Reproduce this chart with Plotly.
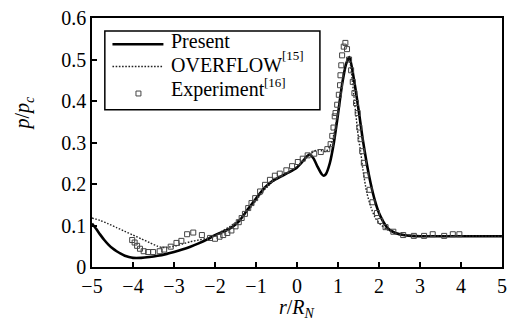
import plotly.graph_objects as go

# ---- data ----
present_x = [-5.0,-4.9,-4.8,-4.7,-4.6,-4.5,-4.4,-4.3,-4.2,-4.1,-4.0,-3.8,-3.6,-3.4,-3.2,-3.0,-2.8,-2.6,-2.4,-2.2,-2.0,-1.8,-1.6,-1.4,-1.2,-1.0,-0.8,-0.6,-0.4,-0.2,0.0,0.1,0.2,0.3,0.4,0.5,0.6,0.65,0.7,0.8,0.9,1.0,1.1,1.2,1.28,1.4,1.5,1.6,1.7,1.8,1.9,2.0,2.1,2.2,2.3,2.4,2.6,2.8,3.0,3.5,4.0,4.5,5.0]
present_y = [0.105,0.092,0.078,0.065,0.054,0.045,0.038,0.032,0.027,0.024,0.022,0.022,0.024,0.027,0.031,0.036,0.042,0.049,0.057,0.066,0.077,0.085,0.095,0.112,0.139,0.165,0.190,0.207,0.218,0.228,0.240,0.250,0.262,0.271,0.262,0.242,0.224,0.220,0.223,0.250,0.300,0.368,0.440,0.490,0.506,0.445,0.380,0.310,0.250,0.200,0.160,0.130,0.110,0.095,0.087,0.082,0.077,0.075,0.074,0.074,0.074,0.074,0.074]

overflow_x = [-5.0,-4.8,-4.6,-4.4,-4.2,-4.0,-3.8,-3.6,-3.4,-3.3,-3.2,-3.0,-2.8,-2.6,-2.4,-2.2,-2.0,-1.8,-1.6,-1.4,-1.2,-1.0,-0.8,-0.6,-0.4,-0.2,0.0,0.2,0.3,0.4,0.5,0.6,0.7,0.8,0.9,1.0,1.1,1.2,1.26,1.3,1.4,1.5,1.55,1.6,1.7,1.8,1.9,2.0,2.2,2.4,2.6,3.0,4.0,5.0]
overflow_y = [0.118,0.112,0.104,0.095,0.086,0.077,0.068,0.059,0.050,0.047,0.047,0.050,0.055,0.061,0.065,0.069,0.076,0.088,0.100,0.115,0.135,0.160,0.185,0.205,0.218,0.228,0.242,0.262,0.270,0.278,0.282,0.280,0.278,0.290,0.320,0.375,0.440,0.490,0.503,0.490,0.400,0.310,0.280,0.240,0.180,0.145,0.120,0.106,0.090,0.081,0.077,0.075,0.075,0.074]

exp_x = [-4.02,-3.96,-3.90,-3.83,-3.74,-3.63,-3.51,-3.35,-3.24,-3.08,-2.94,-2.82,-2.68,-2.53,-2.32,-2.12,-2.00,-1.89,-1.80,-1.70,-1.60,-1.50,-1.42,-1.35,-1.27,-1.19,-1.11,-1.02,-0.90,-0.78,-0.66,-0.54,-0.42,-0.26,-0.12,0.02,0.14,0.26,0.42,0.58,0.74,0.82,0.86,0.89,0.92,0.94,0.98,1.02,1.05,1.06,1.08,1.10,1.14,1.18,1.22,1.27,1.32,1.36,1.40,1.44,1.48,1.52,1.55,1.59,1.63,1.69,1.77,1.84,1.95,2.03,2.16,2.35,2.59,2.85,3.10,3.31,3.59,3.80,3.96]
exp_y = [0.065,0.059,0.051,0.044,0.038,0.036,0.036,0.038,0.042,0.049,0.058,0.063,0.079,0.083,0.077,0.070,0.068,0.073,0.077,0.082,0.088,0.098,0.108,0.118,0.128,0.142,0.154,0.166,0.182,0.198,0.210,0.220,0.225,0.233,0.243,0.253,0.261,0.269,0.273,0.277,0.284,0.296,0.316,0.336,0.363,0.371,0.391,0.415,0.438,0.462,0.486,0.510,0.531,0.540,0.525,0.500,0.474,0.446,0.419,0.395,0.371,0.336,0.308,0.279,0.251,0.221,0.186,0.156,0.130,0.111,0.096,0.085,0.077,0.075,0.075,0.079,0.075,0.079,0.079]

x_ticks = [-5, -4, -3, -2, -1, 0, 1, 2, 3, 4, 5]
y_ticks = [0, 0.1, 0.2, 0.3, 0.4, 0.5, 0.6]

series_names = ["Present", "OVERFLOW", "Experiment"]
series_refs = ["", "[15]", "[16]"]

FONT = "Liberation Serif"
DOT = "1.6px,1.6px"

fig = go.Figure()
fig.add_trace(go.Scatter(x=present_x, y=present_y, mode="lines", name=series_names[0],
                         line=dict(color="black", width=2.6, shape="spline", smoothing=0.6)))
fig.add_trace(go.Scatter(x=overflow_x, y=overflow_y, mode="lines", name=series_names[1],
                         line=dict(color="#222", width=1.4, dash=DOT, shape="spline", smoothing=0.6)))
fig.add_trace(go.Scatter(x=exp_x, y=exp_y, mode="markers", name=series_names[2],
                         marker=dict(symbol="square-open", size=5, color="#444", line=dict(width=1))))

axis_common = dict(showline=True, linecolor="black", linewidth=1.5, mirror=True,
                   ticks="inside", ticklen=5, tickwidth=1.5, tickcolor="black",
                   showgrid=False, zeroline=False,
                   tickfont=dict(family=FONT, size=20, color="black"))

# ---- manual legend (paper coordinates) ----
lx0, lx1, ly0, ly1 = 0.0313, 0.5559, 0.6312, 0.9474
row_y = [0.8945, 0.8051, 0.6968]
txt_y = [0.9079, 0.8110, 0.7140]
sup_x = [None, 0.461, 0.417]
sup_y = [None, 0.848, 0.742]
sx0, sx1 = 0.0499, 0.1742
sq_x = 0.1133
tx = 0.19

shapes = [
    dict(type="rect", xref="paper", yref="paper", x0=lx0, x1=lx1, y0=ly0, y1=ly1,
         line=dict(color="black", width=1.5), fillcolor="white", layer="above"),
    dict(type="line", xref="paper", yref="paper", x0=sx0, x1=sx1, y0=row_y[0], y1=row_y[0],
         line=dict(color="black", width=2.6), layer="above"),
    dict(type="line", xref="paper", yref="paper", x0=sx0, x1=sx1, y0=row_y[1], y1=row_y[1],
         line=dict(color="#222", width=1.4, dash=DOT), layer="above"),
    dict(type="rect", xref="paper", yref="paper",
         x0=sq_x - 2.5 / 415, x1=sq_x + 2.5 / 415,
         y0=row_y[2] - 2.5 / 253, y1=row_y[2] + 2.5 / 253,
         line=dict(color="#444", width=1), fillcolor="white", layer="above"),
]

annotations = [
    dict(text="<i>r</i>/<i>R</i><sub><i>N</i></sub>", x=0.5, y=-0.107,
         xref="paper", yref="paper", showarrow=False, xanchor="center", yanchor="top",
         font=dict(family=FONT, size=20)),
    dict(text="<i>p</i>/<i>p</i><sub><i>c</i></sub>", x=-0.166, y=0.62,
         xref="paper", yref="paper", showarrow=False, textangle=-90,
         xanchor="center", yanchor="middle", font=dict(family=FONT, size=20)),
]
for i, name in enumerate(series_names):
    annotations.append(dict(text=name, x=tx, y=txt_y[i], xref="paper", yref="paper",
                            showarrow=False, xanchor="left", yanchor="middle", borderpad=0,
                            font=dict(family=FONT, size=20, color="black")))
    if series_refs[i]:
        annotations.append(dict(text=series_refs[i], x=sup_x[i], y=sup_y[i],
                                xref="paper", yref="paper", showarrow=False,
                                xanchor="left", yanchor="middle", borderpad=0,
                                font=dict(family=FONT, size=13, color="black")))

fig.update_layout(
    width=514, height=325,
    margin=dict(l=92, r=7, t=14, b=58),
    paper_bgcolor="white", plot_bgcolor="white",
    font=dict(family=FONT, size=20, color="black"),
    xaxis=dict(range=[-5, 5], tickvals=x_ticks, **axis_common),
    yaxis=dict(range=[0, 0.6], tickvals=y_ticks, **axis_common),
    showlegend=False,
    shapes=shapes,
    annotations=annotations,
)

fig.write_html("out.html")
